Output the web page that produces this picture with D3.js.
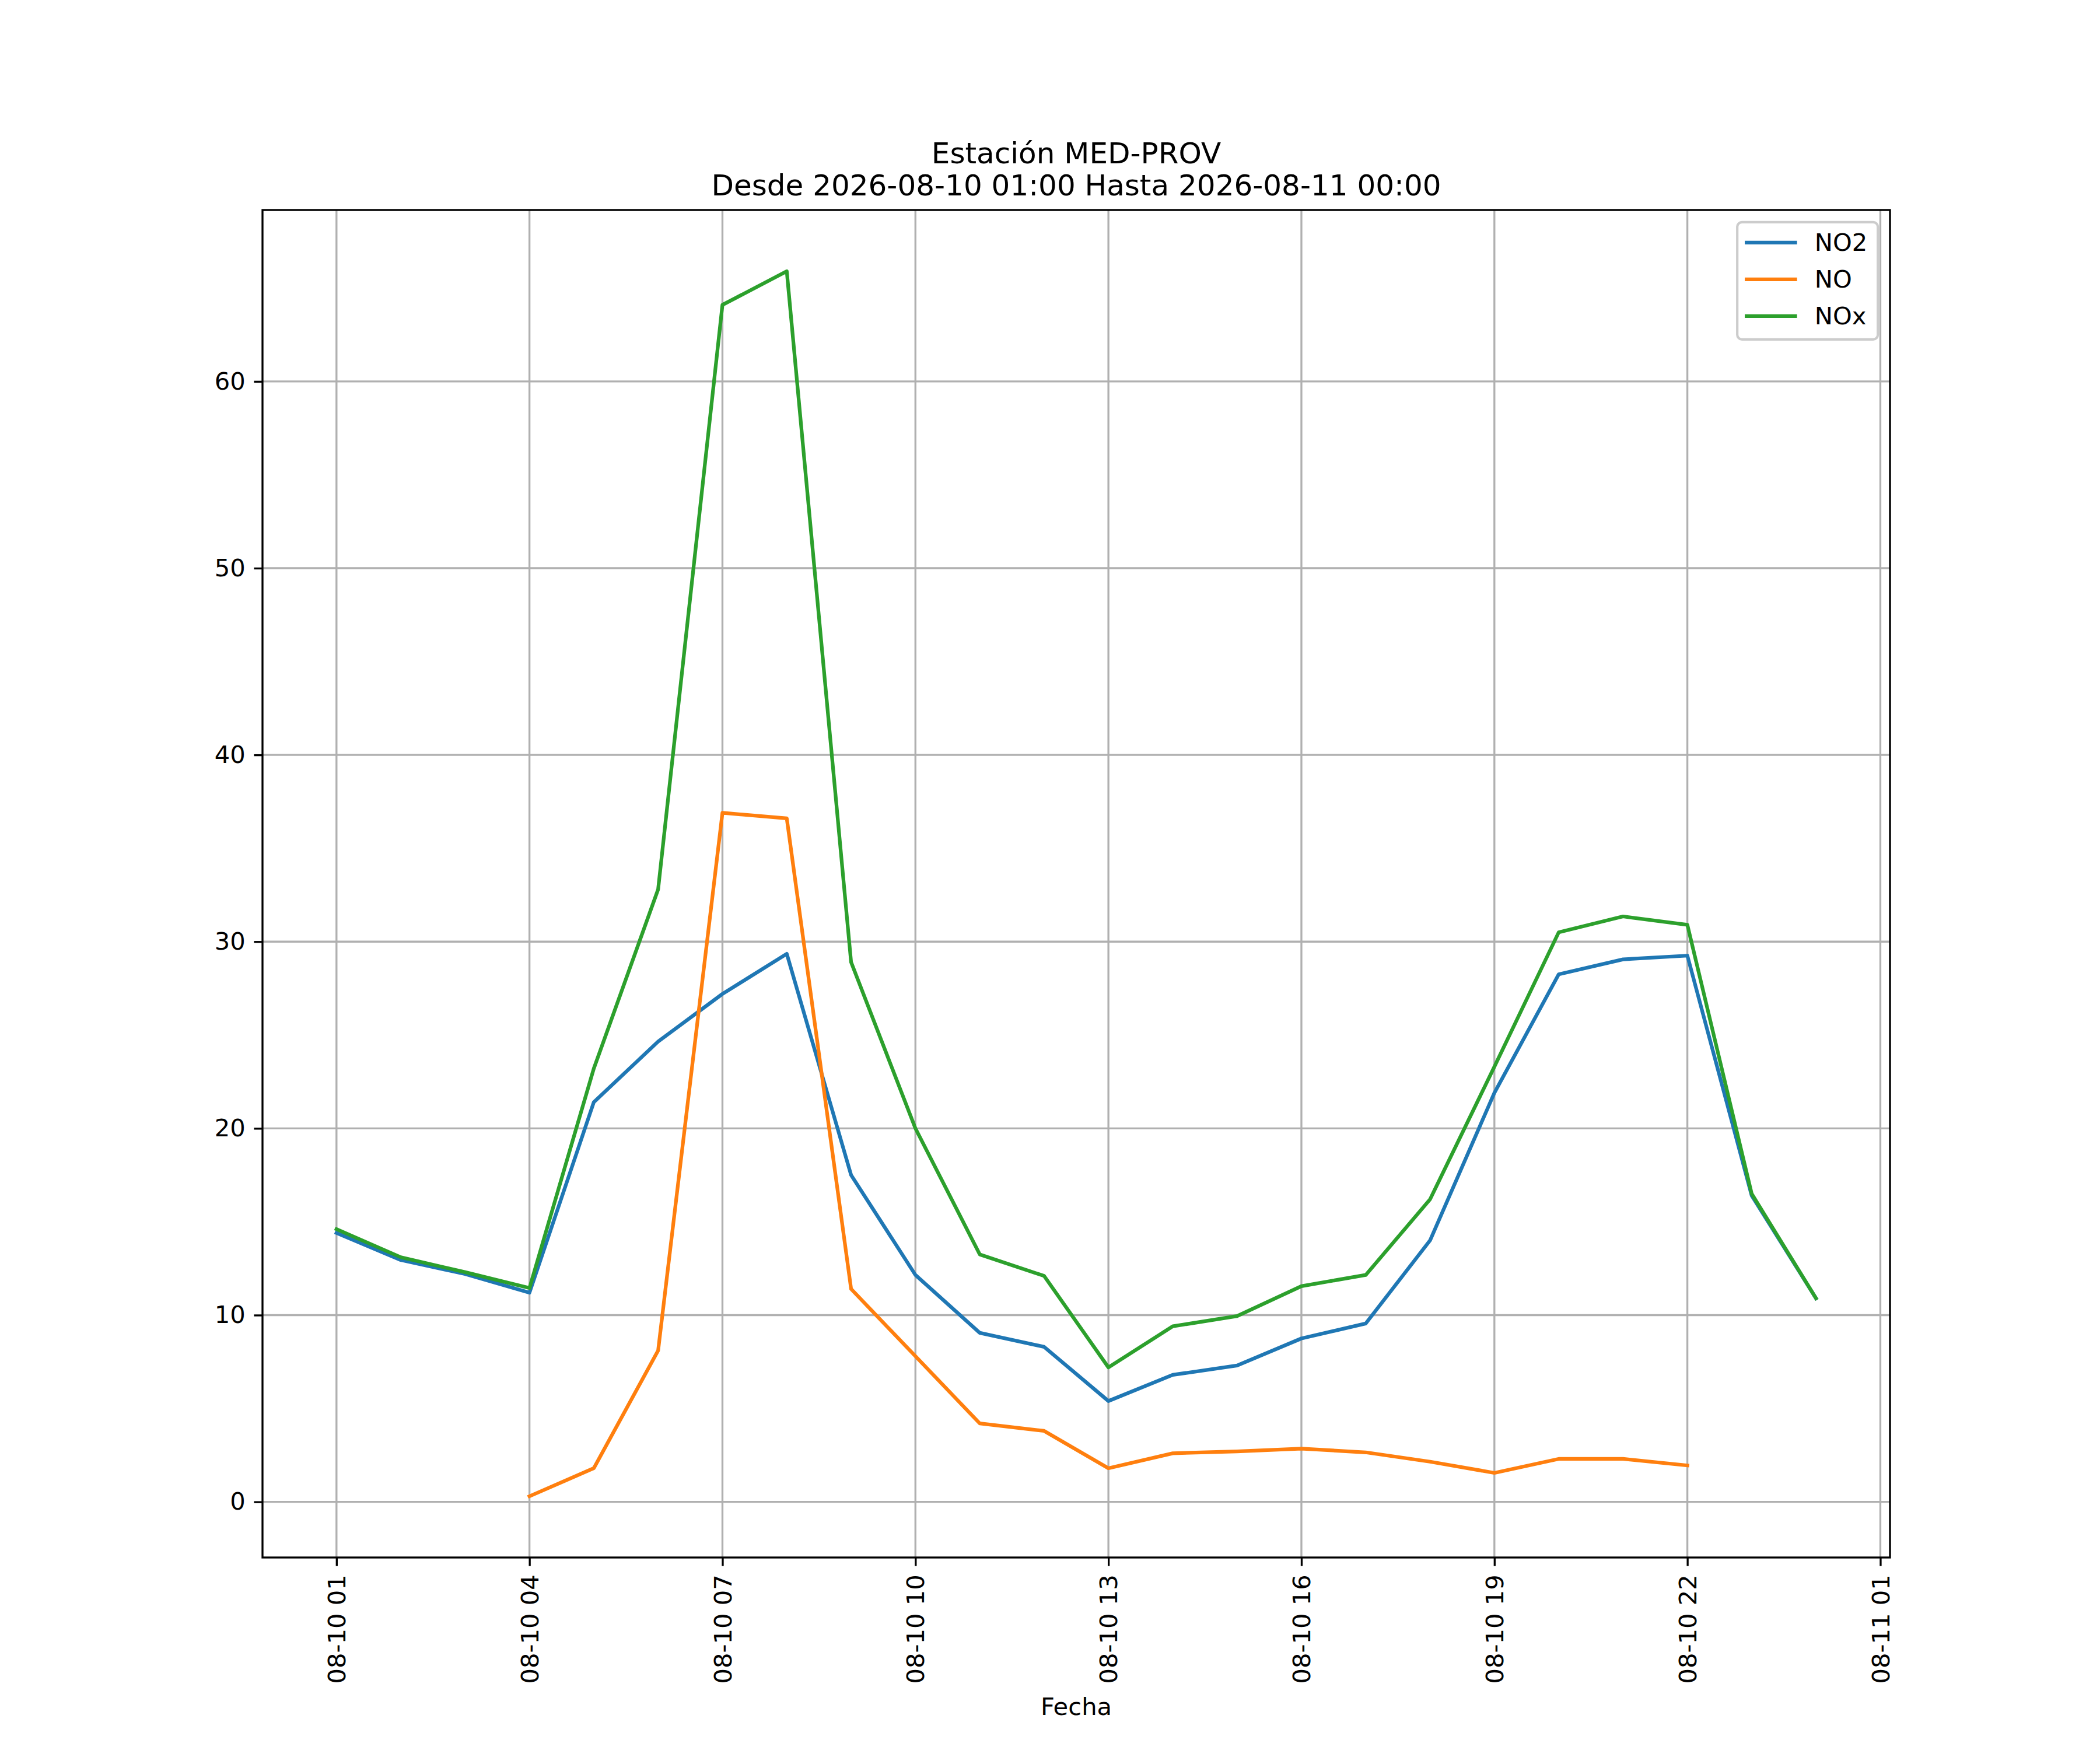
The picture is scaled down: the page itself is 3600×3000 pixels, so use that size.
<!DOCTYPE html>
<meta charset="utf-8">
<script src="https://d3js.org/d3.v7.min.js"></script>
<style>
  body { margin: 0; background: #fff; }
  text { font-family: "DejaVu Sans", sans-serif; fill: #000; }
</style>
<div id="chart"></div>
<script>

// data (hourly values)
var times = ["2026-08-10 01:00", "2026-08-10 02:00", "2026-08-10 03:00", "2026-08-10 04:00",
             "2026-08-10 05:00", "2026-08-10 06:00", "2026-08-10 07:00", "2026-08-10 08:00",
             "2026-08-10 09:00", "2026-08-10 10:00", "2026-08-10 11:00", "2026-08-10 12:00",
             "2026-08-10 13:00", "2026-08-10 14:00", "2026-08-10 15:00", "2026-08-10 16:00",
             "2026-08-10 17:00", "2026-08-10 18:00", "2026-08-10 19:00", "2026-08-10 20:00",
             "2026-08-10 21:00", "2026-08-10 22:00", "2026-08-10 23:00", "2026-08-11 00:00"];

var no2 = [14.4, 12.95, 12.2, 11.2, 21.4, 24.65, 27.2, 29.35, 17.5, 12.15, 9.05, 8.3,
           5.4, 6.8, 7.3, 8.75, 9.55, 14.0, 21.9, 28.25, 29.05, 29.25, 16.4, 10.9];
var no = [null, null, null, 0.3, 1.8, 8.1, 36.9, 36.6, 11.4, 7.8, 4.2, 3.8,
          1.8, 2.6, 2.7, 2.85, 2.65, 2.15, 1.55, 2.3, 2.3, 1.95, null, null];
var nox = [14.6, 13.1, 12.3, 11.45, 23.2, 32.8, 64.1, 65.9, 28.9, 20.0, 13.25, 12.1,
           7.2, 9.4, 9.95, 11.55, 12.15, 16.2, 23.3, 30.5, 31.35, 30.9, 16.5, 10.9];

var seriesNames = ["NO2", "NO", "NOx"];
var seriesColors = ["#1f77b4", "#ff7f0e", "#2ca02c"];
var yTicks = [0, 10, 20, 30, 40, 50, 60];
var titleLines = ["Estación MED-PROV", "Desde 2026-08-10 01:00 Hasta 2026-08-11 00:00"];
var xLabel = "Fecha";

// figure geometry (matplotlib defaults, 12x10in @ 300dpi)
var W = 3600, H = 3000;
var margin = {top: 360, right: 360, bottom: 330, left: 450};
var width = W - margin.left - margin.right,
    height = H - margin.top - margin.bottom;
var pt = 300 / 72;
var fs = 10 * pt;

var svg = d3.select("#chart").append("svg")
    .attr("width", W).attr("height", H);

var g = svg.append("g")
    .attr("transform", "translate(" + margin.left + "," + margin.top + ")");

var parse = d3.utcParse("%Y-%m-%d %H:%M");
var dates = times.map(parse);
var series = [no2, no, nox];

// 5% margins like matplotlib
var t0 = dates[0], t1 = dates[dates.length - 1];
var tpad = (t1 - t0) * 0.05;
var x = d3.scaleUtc()
    .domain([new Date(+t0 - tpad), new Date(+t1 + tpad)])
    .range([0, width]);

var allVals = [].concat(no2, no, nox).filter(function(v) { return v != null; });
var vmin = d3.min(allVals), vmax = d3.max(allVals);
var vpad = (vmax - vmin) * 0.05;
var y = d3.scaleLinear()
    .domain([vmin - vpad, vmax + vpad])
    .range([height, 0]);

// ticks every 3 hours from the first sample
var xTicks = d3.range(0, 9).map(function(i) { return d3.utcHour.offset(t0, 3 * i); });
var fmt = d3.utcFormat("%m-%d %H");

// grid
g.append("g").selectAll("line").data(xTicks).enter().append("line")
    .attr("x1", function(d) { return x(d); }).attr("x2", function(d) { return x(d); })
    .attr("y1", 0).attr("y2", height)
    .attr("stroke", "#b0b0b0").attr("stroke-width", 0.8 * pt);
g.append("g").selectAll("line").data(yTicks).enter().append("line")
    .attr("y1", function(d) { return y(d); }).attr("y2", function(d) { return y(d); })
    .attr("x1", 0).attr("x2", width)
    .attr("stroke", "#b0b0b0").attr("stroke-width", 0.8 * pt);

// lines
var line = d3.line()
    .defined(function(d) { return d.v != null; })
    .x(function(d) { return x(d.t); })
    .y(function(d) { return y(d.v); });

series.forEach(function(s, i) {
    var pts = s.map(function(v, j) { return {t: dates[j], v: v}; });
    g.append("path")
        .datum(pts)
        .attr("d", line)
        .attr("fill", "none")
        .attr("stroke", seriesColors[i])
        .attr("stroke-width", 1.5 * pt)
        .attr("stroke-linejoin", "round")
        .attr("stroke-linecap", "square");
});

// axes
var xAxis = d3.axisBottom(x).tickValues(xTicks).tickFormat(fmt)
    .tickSize(3.5 * pt).tickPadding(3.5 * pt);
var gx = g.append("g").attr("transform", "translate(0," + height + ")").call(xAxis);
gx.select(".domain").remove();
gx.selectAll(".tick line").attr("stroke", "#000").attr("stroke-width", 0.8 * pt);
gx.selectAll(".tick text")
    .attr("font-size", fs)
    .attr("font-family", "DejaVu Sans")
    .attr("text-anchor", "end")
    .attr("transform", "translate(0," + (7 * pt) + ") rotate(-90)")
    .attr("x", 0).attr("y", 0).attr("dy", "0.35em");

var yAxis = d3.axisLeft(y).tickValues(yTicks)
    .tickSize(3.5 * pt).tickPadding(3.5 * pt);
var gy = g.append("g").call(yAxis);
gy.select(".domain").remove();
gy.selectAll(".tick line").attr("stroke", "#000").attr("stroke-width", 0.8 * pt);
gy.selectAll(".tick text").attr("font-size", fs).attr("font-family", "DejaVu Sans");

// frame
g.append("rect")
    .attr("width", width).attr("height", height)
    .attr("fill", "none").attr("stroke", "#000").attr("stroke-width", 0.8 * pt);

// titles
svg.append("text")
    .attr("x", margin.left + width / 2)
    .attr("y", 2940)
    .attr("text-anchor", "middle")
    .attr("font-size", fs)
    .text(xLabel);

svg.selectAll(".title").data(titleLines).enter().append("text")
    .attr("class", "title")
    .attr("x", margin.left + width / 2)
    .attr("y", function(d, i) { return 280 + i * 55; })
    .attr("text-anchor", "middle")
    .attr("font-size", 12 * pt)
    .text(function(d) { return d; });

// legend
var lgW = 241, lgH = 201;
var lg = g.append("g")
    .attr("transform", "translate(" + (width - 0.5 * fs - lgW) + "," + (0.5 * fs) + ")");
lg.append("rect")
    .attr("width", lgW).attr("height", lgH)
    .attr("rx", 8).attr("ry", 8)
    .attr("fill", "#fff").attr("fill-opacity", 0.8)
    .attr("stroke", "#cccccc").attr("stroke-width", 1 * pt);
seriesNames.forEach(function(n, i) {
    var cy = 35 + i * 63;
    lg.append("line")
        .attr("x1", 16).attr("x2", 16 + 2 * fs)
        .attr("y1", cy).attr("y2", cy)
        .attr("stroke", seriesColors[i])
        .attr("stroke-width", 1.5 * pt)
        .attr("stroke-linecap", "square");
    lg.append("text")
        .attr("x", 16 + 2.8 * fs).attr("y", cy)
        .attr("dy", "0.35em")
        .attr("font-size", fs)
        .text(n);
});
</script>
